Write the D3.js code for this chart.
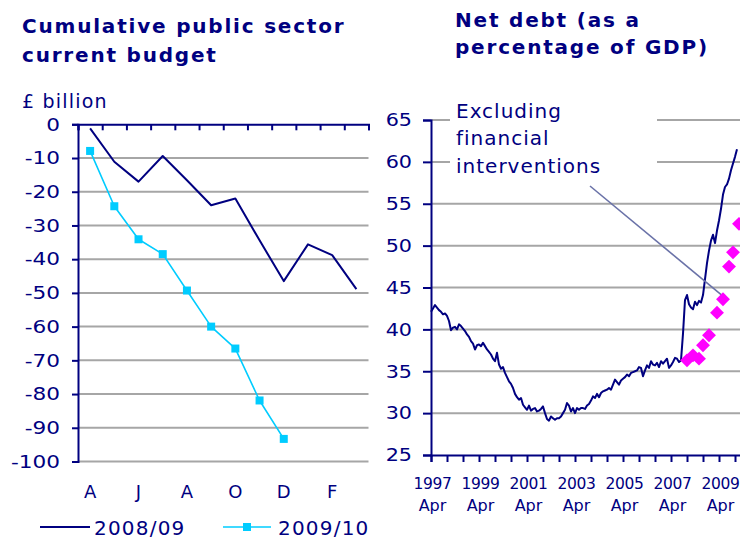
<!DOCTYPE html>
<html>
<head>
<meta charset="utf-8">
<script src="https://cdn.jsdelivr.net/npm/d3@7"></script>
<style>
  html, body { margin: 0; padding: 0; background: #fff; }
  svg text { font-family: "DejaVu Sans", Verdana, sans-serif; fill: #000080; }
</style>
</head>
<body>
<svg id="chart" width="740" height="540"></svg>
<script>
// ---- Cumulative public sector current budget (£ billion) ----
const fiscalMonths = ["Apr", "May", "Jun", "Jul", "Aug", "Sep", "Oct", "Nov", "Dec", "Jan", "Feb", "Mar"];
const monthInitials = ["A", "M", "J", "J", "A", "S", "O", "N", "D", "J", "F", "M"];
const budget0809 = [-1.2, -11.1, -17.0, -9.4, -16.6, -24.0, -22.0, -34.4, -46.5, -35.6, -38.8, -48.9];
const budget0910 = [-7.9, -24.3, -34.1, -38.5, -49.3, -60.0, -66.5, -81.9, -93.3];
const budgetTicks = [0, -10, -20, -30, -40, -50, -60, -70, -80, -90, -100];
const seriesNames = ["2008/09", "2009/10"];

// ---- Net debt as % of GDP, monthly from April 1997 ----
const debtStart = { year: 1997, month: "Apr" };
const netDebt = [
  42.1, 42.5, 42.9, 42.6, 42.3, 42.1, 41.8, 41.9, 41.6, 41.0,
  39.9, 40.2, 40.3, 40.0, 40.6, 40.4, 40.1, 39.8, 39.4, 39.1,
  38.6, 38.3, 37.6, 38.1, 38.2, 38.0, 38.4, 38.0, 37.6, 37.3,
  37.0, 36.5, 36.2, 37.2, 35.8, 35.3, 35.5, 34.8, 34.3, 33.8,
  33.5, 33.0, 32.3, 31.9, 31.6, 31.8, 31.0, 30.7, 30.4, 30.9,
  30.3, 30.5, 30.6, 30.2, 30.3, 30.5, 30.8, 30.0, 29.3, 29.1,
  29.6, 29.4, 29.2, 29.4, 29.4, 29.6, 30.0, 30.4, 31.2, 30.9,
  30.2, 30.6, 30.0, 30.6, 30.4, 30.6, 30.6, 30.5, 30.9, 31.1,
  31.5, 32.0, 31.8, 32.3, 31.9, 32.4, 32.6, 32.7, 32.8, 33.0,
  32.8, 33.4, 34.0, 33.7, 33.4, 33.9, 34.1, 34.3, 34.6, 34.4,
  34.8, 34.9, 35.0, 35.1, 35.5, 35.4, 34.4, 35.1, 35.7, 35.4,
  36.2, 35.8, 35.7, 36.0, 35.5, 36.2, 35.9, 36.2, 36.5, 35.4,
  35.7, 36.1, 36.6, 36.5, 36.1, 36.3, 39.5, 43.5, 44.1, 43.0,
  42.6, 42.4, 43.3, 42.9, 43.4, 43.2, 44.1, 46.0, 47.9, 49.4,
  50.6, 51.3, 50.3, 51.8, 53.0, 54.4, 56.1, 57.0, 57.3, 58.0,
  59.0, 59.8, 60.6, 61.5
];
// Excluding financial interventions: month offset from April 1997, value
const exclMonths = [128, 131, 134, 136, 139, 143, 146, 149, 151, 154];
const exclValues = [36.3, 36.9, 36.5, 38.1, 39.3, 42.0, 43.6, 47.5, 49.2, 52.6];
const debtTicks = [25, 30, 35, 40, 45, 50, 55, 60, 65];
const yearLabels = ["1997", "1999", "2001", "2003", "2005", "2007", "2009"];

const NAVY = "#000080";
const CYAN = "#00ccff";
const MAGENTA = "#ff00ff";
const GRID = "#a6a6a6";

const svg = d3.select("#chart");

// Tick labels are drawn in a wide face: stretch horizontally, keep right edge fixed
function widenTickText(sel, k, xEnd) {
  sel.attr("x", xEnd / k).attr("transform", `scale(${k},1)`);
}

// ================= Left chart =================
const left = svg.append("g");

left.append("text").attr("x", 22).attr("y", 33)
  .style("font-weight", "bold").style("font-size", "20px").style("letter-spacing", "1.8px")
  .text("Cumulative public sector");
left.append("text").attr("x", 22).attr("y", 61.5)
  .style("font-weight", "bold").style("font-size", "20px").style("letter-spacing", "1.8px")
  .text("current budget");
left.append("text").attr("x", 22).attr("y", 107.5)
  .style("font-size", "19px").style("letter-spacing", "1.2px")
  .text("£ billion");

const xL = d3.scaleBand().domain(fiscalMonths).range([78, 368.5]);
const xLIdx = d3.scaleLinear().domain([0, fiscalMonths.length]).range([78, 368.5]);
const yL = d3.scaleLinear().domain([-100, 0]).range([461.5, 124.3]);

// horizontal gridlines
left.append("g").selectAll("line")
  .data(budgetTicks.filter(d => d !== 0))
  .join("line")
  .attr("x1", 78).attr("x2", 368.5)
  .attr("y1", d => yL(d)).attr("y2", d => yL(d))
  .attr("stroke", GRID).attr("stroke-width", 2);

// y axis
const yAxisL = left.append("g").attr("transform", "translate(78,0)")
  .call(d3.axisLeft(yL).tickValues(budgetTicks).tickSize(6).tickPadding(12)
    .tickFormat(d => String(d)));
yAxisL.select(".domain").attr("stroke", NAVY).attr("stroke-width", 2);
yAxisL.selectAll(".tick line").attr("stroke", NAVY).attr("stroke-width", 2);
yAxisL.selectAll(".tick text").attr("fill", NAVY).style("font-size", "18px")
  .call(widenTickText, 1.2, -18);

// x axis along zero with ticks between months
const xAxisL = left.append("g").attr("transform", `translate(0,${yL(0)})`)
  .call(d3.axisBottom(xLIdx).tickValues(d3.range(0, fiscalMonths.length + 1)).tickSize(6).tickFormat(""));
xAxisL.select(".domain").attr("stroke", NAVY).attr("stroke-width", 2);
xAxisL.selectAll(".tick line").attr("stroke", NAVY).attr("stroke-width", 2);

// month initials along the bottom
left.append("g").selectAll("text")
  .data(fiscalMonths.filter((d, i) => i % 2 === 0))
  .join("text")
  .attr("x", d => xL(d) + xL.bandwidth() / 2)
  .attr("y", 498)
  .attr("text-anchor", "middle")
  .style("font-size", "18px")
  .text(d => monthInitials[fiscalMonths.indexOf(d)]);

// 2008/09 line
const lineL = d3.line()
  .x((d, i) => xL(fiscalMonths[i]) + xL.bandwidth() / 2)
  .y(d => yL(d));
left.append("path").datum(budget0809)
  .attr("d", lineL).attr("fill", "none")
  .attr("stroke", NAVY).attr("stroke-width", 2).attr("stroke-linejoin", "round");

// 2009/10 line with square markers
left.append("path").datum(budget0910)
  .attr("d", lineL).attr("fill", "none")
  .attr("stroke", CYAN).attr("stroke-width", 1.6).attr("stroke-linejoin", "round");
left.append("g").selectAll("rect")
  .data(budget0910)
  .join("rect")
  .attr("x", (d, i) => xL(fiscalMonths[i]) + xL.bandwidth() / 2 - 4)
  .attr("y", d => yL(d) - 4)
  .attr("width", 8).attr("height", 8)
  .attr("fill", CYAN);

// legend
const legend = left.append("g").attr("transform", "translate(0,527)");
legend.append("line").attr("x1", 40).attr("x2", 90).attr("y1", 0).attr("y2", 0)
  .attr("stroke", NAVY).attr("stroke-width", 2);
legend.append("text").attr("x", 94).attr("y", 7.5)
  .style("font-size", "20px").style("letter-spacing", "1.2px").text(seriesNames[0]);
legend.append("line").attr("x1", 223).attr("x2", 271).attr("y1", 0).attr("y2", 0)
  .attr("stroke", CYAN).attr("stroke-width", 1.6);
legend.append("rect").attr("x", 243).attr("y", -4).attr("width", 8).attr("height", 8)
  .attr("fill", CYAN);
legend.append("text").attr("x", 278).attr("y", 7.5)
  .style("font-size", "20px").style("letter-spacing", "1.2px").text(seriesNames[1]);

// ================= Right chart =================
const right = svg.append("g");

right.append("text").attr("x", 455).attr("y", 26.5)
  .style("font-weight", "bold").style("font-size", "20px").style("letter-spacing", "1.8px")
  .text("Net debt (as a");
right.append("text").attr("x", 455).attr("y", 53.5)
  .style("font-weight", "bold").style("font-size", "20px").style("letter-spacing", "1.8px")
  .text("percentage of GDP)");

const xR = d3.scaleLinear().domain([0, 155]).range([431, 741]);
const yR = d3.scaleLinear().domain([25, 65]).range([455, 120]);

right.append("g").selectAll("line")
  .data(debtTicks.filter(d => d !== 25))
  .join("line")
  .attr("x1", 431).attr("x2", 740)
  .attr("y1", d => yR(d)).attr("y2", d => yR(d))
  .attr("stroke", GRID).attr("stroke-width", 2);

// label box (white background hides the gridlines behind the note)
right.append("rect").attr("x", 450).attr("y", 96).attr("width", 207).attr("height", 84)
  .attr("fill", "#fff");
const note = right.append("g").style("font-size", "20px").style("letter-spacing", "1px");
note.append("text").attr("x", 456).attr("y", 117.5).text("Excluding");
note.append("text").attr("x", 456).attr("y", 145).text("financial");
note.append("text").attr("x", 456).attr("y", 172.5).text("interventions");

// y axis
const yAxisR = right.append("g").attr("transform", "translate(431,0)")
  .call(d3.axisLeft(yR).tickValues(debtTicks).tickSize(8).tickPadding(11));
yAxisR.select(".domain").attr("stroke", NAVY).attr("stroke-width", 2);
yAxisR.selectAll(".tick line").attr("stroke", NAVY).attr("stroke-width", 2);
yAxisR.selectAll(".tick text").attr("fill", NAVY).style("font-size", "18px")
  .call(widenTickText, 1.15, -19);

// x axis, ticks every 8 months
const xAxisR = right.append("g").attr("transform", `translate(0,${yR(25)})`)
  .call(d3.axisBottom(xR).tickValues(d3.range(0, 155, 8)).tickSize(7).tickFormat(""));
xAxisR.select(".domain").attr("stroke", NAVY).attr("stroke-width", 2);
xAxisR.selectAll(".tick line").attr("stroke", NAVY).attr("stroke-width", 2);

const yearTicks = right.append("g").selectAll("g")
  .data(yearLabels)
  .join("g")
  .attr("transform", (d, i) => `translate(${xR(i * 24) + 1.5},0)`);
yearTicks.append("text").attr("y", 488.5).attr("text-anchor", "middle")
  .style("font-size", "15.5px").style("letter-spacing", "-0.3px").text(d => d);
yearTicks.append("text").attr("y", 511).attr("text-anchor", "middle")
  .style("font-size", "16px").text(debtStart.month);

// net debt line
right.append("path").datum(netDebt)
  .attr("d", d3.line().x((d, i) => xR(i)).y(d => yR(d)))
  .attr("fill", "none").attr("stroke", NAVY).attr("stroke-width", 2)
  .attr("stroke-linejoin", "round");

// pointer from the note to the excluding-interventions series
const ptrEnd = [xR(exclMonths[6] - 0.2), yR(exclValues[6] + 0.4)];
right.append("line")
  .attr("x1", 590).attr("y1", 186)
  .attr("x2", ptrEnd[0]).attr("y2", ptrEnd[1])
  .attr("stroke", "#6a72a8").attr("stroke-width", 1.6);

// excluding financial interventions diamonds
right.append("g").selectAll("path")
  .data(exclMonths.map((m, i) => [m, exclValues[i]]))
  .join("path")
  .attr("d", d3.symbol(d3.symbolSquare, 96))
  .attr("transform", d => `translate(${xR(d[0])},${yR(d[1])}) rotate(45)`)
  .attr("fill", MAGENTA);
</script>
</body>
</html>
